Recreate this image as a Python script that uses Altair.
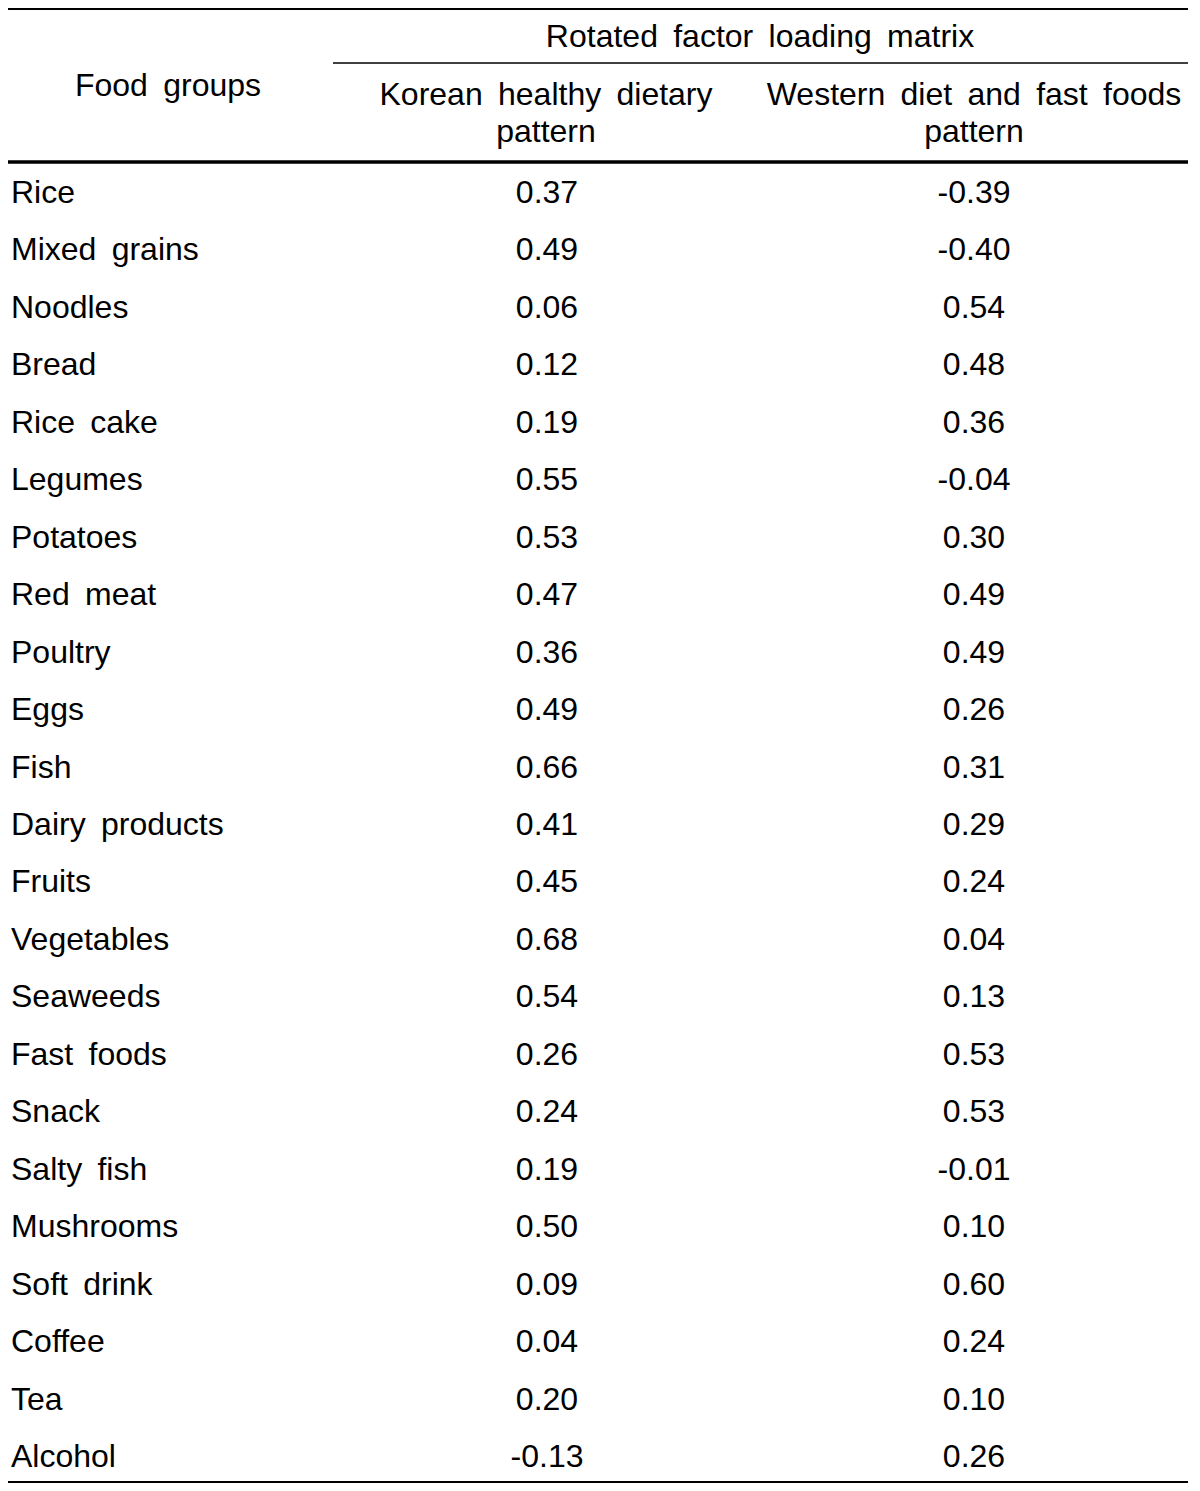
import altair as alt
import pandas as pd

foods = ["Rice", "Mixed grains", "Noodles", "Bread", "Rice cake", "Legumes",
         "Potatoes", "Red meat", "Poultry", "Eggs", "Fish", "Dairy products",
         "Fruits", "Vegetables", "Seaweeds", "Fast foods", "Snack", "Salty fish",
         "Mushrooms", "Soft drink", "Coffee", "Tea", "Alcohol"]
korean = [0.37, 0.49, 0.06, 0.12, 0.19, 0.55, 0.53, 0.47, 0.36, 0.49, 0.66, 0.41,
          0.45, 0.68, 0.54, 0.26, 0.24, 0.19, 0.50, 0.09, 0.04, 0.20, -0.13]
western = [-0.39, -0.40, 0.54, 0.48, 0.36, -0.04, 0.30, 0.49, 0.49, 0.26, 0.31, 0.29,
           0.24, 0.04, 0.13, 0.53, 0.53, -0.01, 0.10, 0.60, 0.24, 0.10, 0.26]

header_top = "Rotated factor loading matrix"
header_left = "Food groups"
col1 = ["Korean healthy dietary", "pattern"]
col2 = ["Western diet and fast foods", "pattern"]

SP = " \u2009"


def wide(s):
    return s.replace(" ", SP)


df = pd.DataFrame({
    "i": list(range(len(foods))),
    "food": [wide(f) for f in foods],
    "k": [f"{v:.2f}" for v in korean],
    "w": [f"{v:.2f}" for v in western],
})

FONT = "Liberation Sans"
FS = 32
W, H = 1184, 1475

yscale = alt.Scale(domain=[0, len(foods) - 1], range=[195, 1459])
base = alt.Chart(df)
txt = dict(font=FONT, fontSize=FS, color="black", baseline="alphabetic")

left = base.mark_text(align="left", **txt).encode(
    x=alt.value(3), y=alt.Y("i:Q", scale=yscale, axis=None), text="food:N")
mid = base.mark_text(align="center", **txt).encode(
    x=alt.value(539), y=alt.Y("i:Q", scale=yscale, axis=None), text="k:N")
right = base.mark_text(align="center", **txt).encode(
    x=alt.value(966), y=alt.Y("i:Q", scale=yscale, axis=None), text="w:N")

one = pd.DataFrame({"a": [0]})


def label(s, x, y):
    return alt.Chart(one).mark_text(align="center", text=wide(s), **txt).encode(
        x=alt.value(x), y=alt.value(y))


def rule(x1, x2, y, w):
    return alt.Chart(one).mark_rule(color="black", strokeWidth=w).encode(
        x=alt.value(x1), x2=alt.value(x2), y=alt.value(y))


layers = [
    rule(0, 1180, 1, 2),
    rule(325, 1180, 55, 1.5),
    rule(0, 1180, 154, 3.5),
    rule(0, 1180, 1474, 2),
    label(header_top, 752, 39),
    label(header_left, 160, 88),
    label(col1[0], 538, 97),
    label(col1[1], 538, 134),
    label(col2[0], 966, 97),
    label(col2[1], 966, 134),
    left, mid, right,
]

chart = alt.layer(*layers).properties(
    width=W, height=H, padding=0,
    autosize=alt.AutoSizeParams(type="none"),
).configure_view(stroke=None)

chart.save("out.html", embed_options={"renderer": "svg", "actions": False})
